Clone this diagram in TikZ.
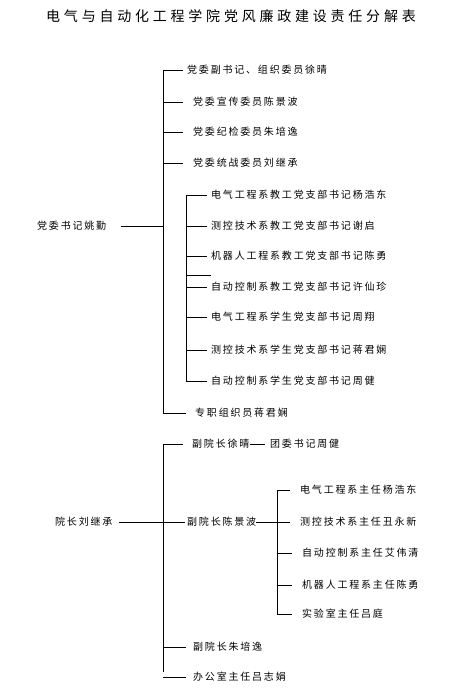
\documentclass[tikz,border=0pt]{standalone}
\usepackage{fontspec}
\newfontfamily\cjk[LetterSpace=18]{Noto Sans CJK SC}
\newfontfamily\cjktitle[LetterSpace=27]{Noto Sans CJK SC}
\usetikzlibrary{positioning,calc}

\begin{document}
\begin{tikzpicture}[
  x=1pt, y=-1pt,
  item/.style  = {anchor=west, inner sep=0pt, font={\fontsize{10}{12}\cjk}},
  head/.style  = {inner sep=0pt, font={\fontsize{14}{16}\cjktitle}},
  link/.style  = {line width=0.8pt, black},
  trunk/.style = {line width=1pt, black}
]
  \useasboundingbox (0,0) rectangle (452,698);

  % Title
  \node[head] (title) at (231,16) {电气与自动化工程学院党风廉政建设责任分解表};

  % Party committee
  \node[item] (sec) at (37,226) {党委书记姚勤};
  \node[item] (a1) at (187,70)  {党委副书记、组织委员徐晴};
  \node[item] (a2) at (193,102) {党委宣传委员陈景波};
  \node[item] (a3) at (193,132) {党委纪检委员朱培逸};
  \node[item] (a4) at (193,163) {党委统战委员刘继承};
  \node[item] (a5) at (195,413) {专职组织员蒋君娴};

  % Branch secretaries
  \node[item] (b1) at (211,195) {电气工程系教工党支部书记杨浩东};
  \node[item] (b2) at (211,226) {测控技术系教工党支部书记谢启};
  \node[item] (b3) at (211,256) {机器人工程系教工党支部书记陈勇};
  \node[item] (b4) at (211,287) {自动控制系教工党支部书记许仙珍};
  \node[item] (b5) at (211,317) {电气工程系学生党支部书记周翔};
  \node[item] (b6) at (211,350) {测控技术系学生党支部书记蒋君娴};
  \node[item] (b7) at (211,381) {自动控制系学生党支部书记周健};

  \coordinate (tk1) at (163,0);
  \coordinate (tk2) at (186,0);

  \draw[trunk] (a1.west -| tk1) -- (a5.west -| tk1);
  \draw[link] ([xshift=15]sec.east) -- (sec.east -| tk1);
  \draw[link] (a1.west -| tk1) -- ([xshift=-4]a1.west);
  \draw[link] (a2.west -| tk1) -- ([xshift=-10]a2.west);
  \draw[link] (a3.west -| tk1) -- ([xshift=-10]a3.west);
  \draw[link] (a4.west -| tk1) -- ([xshift=-10]a4.west);
  \draw[link] (a5.west -| tk1) -- ([xshift=-9]a5.west);

  \draw[trunk] (b1.west -| tk2) -- (b7.west -| tk2);
  \draw[link] ($(b3.west)!0.5!(b4.west)$ -| tk1) ++(0,4) coordinate (j1) -- (j1 -| tk2);
  \foreach \n in {b1,b2,b3,b4,b5,b6,b7}
    \draw[link] (\n.west -| tk2) -- ([xshift=-4]\n.west);

  % Dean
  \node[item] (dean) at (55,522)  {院长刘继承};
  \node[item] (c1)   at (192,444) {副院长徐晴};
  \node[item] (d1)   at (270,444) {团委书记周健};
  \node[item] (c2)   at (187,522) {副院长陈景波};
  \node[item] (c3)   at (193,647) {副院长朱培逸};
  \node[item] (c4)   at (193,677) {办公室主任吕志娟};

  % Department heads
  \node[item] (e1) at (300,490) {电气工程系主任杨浩东};
  \node[item] (e2) at (300,522) {测控技术系主任丑永新};
  \node[item] (e3) at (302,553) {自动控制系主任艾伟清};
  \node[item] (e4) at (302,585) {机器人工程系主任陈勇};
  \node[item] (e5) at (302,614) {实验室主任吕庭};

  \coordinate (tk3) at (277,0);

  \draw[trunk] (c1.west -| tk1) -- ([yshift=5]c4.west -| tk1);
  \draw[link] ([xshift=6]dean.east) -- ([xshift=-2]c2.west);
  \draw[link] (c1.west -| tk1) -- ([xshift=-9]c1.west);
  \draw[link] (c1.east) -- ([xshift=-5]d1.west);
  \draw[link] (c2.east) -- (c2.east -| tk3);
  \draw[link] (c3.west -| tk1) -- ([xshift=-7]c3.west);
  \draw[link] (c4.west -| tk1) -- ([xshift=-7]c4.west);

  \draw[trunk] (e1.west -| tk3) -- (e5.west -| tk3);
  \foreach \n in {e1,e2,e3,e4,e5}
    \draw[link] (\n.west -| tk3) -- ([xshift=-10]\n.west);

\end{tikzpicture}
\end{document}
